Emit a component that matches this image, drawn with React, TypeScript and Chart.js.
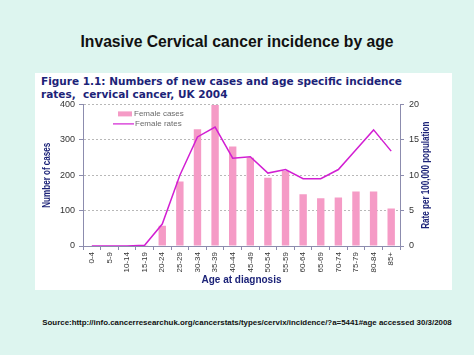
import React, { useEffect, useRef } from "react";
import { Chart, registerables } from "chart.js";

Chart.register(...registerables);

const ageGroups = ["0-4", "5-9", "10-14", "15-19", "20-24", "25-29", "30-34", "35-39", "40-44", "45-49", "50-54", "55-59", "60-64", "65-69", "70-74", "75-79", "80-84", "85+"];
const femaleCases = [0, 0, 0, 2, 57, 182, 330, 398, 281, 249, 193, 212, 146, 135, 137, 154, 154, 106];
const femaleRates = [0, 0, 0, 0.1, 3.1, 10.0, 15.4, 16.8, 12.4, 12.6, 10.3, 10.8, 9.5, 9.5, 10.8, 13.6, 16.4, 13.4];
const leftTicks = [0, 100, 200, 300, 400];
const rightTicks = [0, 5, 10, 15, 20];

const BAR = "#f59bc6";
const LINE = "#d21fd2";
const NAVY = "#1c2378";
const AXIS = "#8c8cae";

function drawVerticalTitle(ctx: any, text: string, x: number, y: number, targetLen: number) {
  ctx.save();
  ctx.font = "bold 10px 'Liberation Sans', Arial, sans-serif";
  ctx.fillStyle = NAVY;
  ctx.textAlign = "center";
  ctx.textBaseline = "middle";
  const w = ctx.measureText(text).width;
  ctx.translate(x, y);
  ctx.rotate(-Math.PI / 2);
  ctx.scale(targetLen / w, 1);
  ctx.fillText(text, 0, 0);
  ctx.restore();
}

const legendPlugin = {
  id: "insideLegend",
  afterDraw(chart: any) {
    const { ctx, chartArea } = chart;
    const x0 = chartArea.left;
    const y0 = chartArea.top;
    ctx.save();
    ctx.font = "8px 'Liberation Sans', Arial, sans-serif";
    ctx.textBaseline = "middle";
    ctx.fillStyle = BAR;
    ctx.fillRect(x0 + 35, y0 + 7, 14, 5);
    ctx.fillStyle = "#6a6a6a";
    ctx.fillText("Female cases", x0 + 51, y0 + 9.5);
    ctx.strokeStyle = LINE;
    ctx.lineWidth = 1.2;
    ctx.beginPath();
    ctx.moveTo(x0 + 30, y0 + 19.5);
    ctx.lineTo(x0 + 51, y0 + 19.5);
    ctx.stroke();
    ctx.fillText("Female rates", x0 + 52, y0 + 19.5);
    ctx.restore();
    const cy = (chartArea.top + chartArea.bottom) / 2;
    drawVerticalTitle(ctx, "Number of cases", 12, cy, 65);
    drawVerticalTitle(ctx, "Rate per 100,000 population", 391, cy, 107);
  },
};

export default function App() {
  const ref = useRef<HTMLCanvasElement>(null);
  useEffect(() => {
    if (!ref.current) return;
    const tickFont = { family: "'Liberation Sans', Arial, sans-serif", size: 9 };
    const chart = new Chart(ref.current, {
      type: "bar",
      data: {
        labels: ageGroups,
        datasets: [
          {
            type: "line",
            label: "Female rates",
            data: femaleRates,
            borderColor: LINE,
            backgroundColor: LINE,
            borderWidth: 1.5,
            pointRadius: 0,
            tension: 0,
            yAxisID: "y1",
            order: 0,
          } as any,
          {
            type: "bar",
            label: "Female cases",
            data: femaleCases,
            backgroundColor: BAR,
            barPercentage: 0.42,
            categoryPercentage: 1,
            yAxisID: "y",
            order: 1,
          },
        ],
      },
      options: {
        animation: false,
        responsive: false,
        maintainAspectRatio: false,
        layout: { padding: { top: 2, left: 0, right: 0, bottom: 0 } },
        plugins: { legend: { display: false }, tooltip: { enabled: false }, title: { display: false } },
        scales: {
          x: {
            grid: { display: true, drawOnChartArea: false, offset: true, tickLength: 4, color: AXIS },
            border: { color: AXIS, width: 1 },
            ticks: { minRotation: 90, maxRotation: 90, autoSkip: false, color: "#333", font: { ...tickFont, size: 8 }, padding: 2 },
            title: { display: true, text: "Age at diagnosis", color: NAVY, font: { family: "'Liberation Sans', Arial, sans-serif", size: 10, weight: "bold" }, padding: { top: 2, bottom: 4 } },
            afterFit: (s: any) => { s.height = 44; },
          },
          y: {
            position: "left",
            min: 0,
            max: 400,
            afterBuildTicks: (s: any) => { s.ticks = leftTicks.map((v) => ({ value: v })); },
            grid: { color: "#b8b8b8", tickLength: 4, tickColor: AXIS },
            border: { color: AXIS, width: 1, dash: [2, 2] },
            ticks: { color: "#333", font: tickFont, padding: 4 },
            title: { display: false },
            afterFit: (s: any) => { s.width = 48; },
          },
          y1: {
            position: "right",
            min: 0,
            max: 20,
            afterBuildTicks: (s: any) => { s.ticks = rightTicks.map((v) => ({ value: v })); },
            grid: { drawOnChartArea: false, tickLength: 4, color: AXIS },
            border: { color: AXIS, width: 1 },
            ticks: { color: "#333", font: tickFont, padding: 5 },
            title: { display: false },
            afterFit: (s: any) => { s.width = 52; },
          },
        },
      },
      plugins: [legendPlugin],
    });
    return () => chart.destroy();
  }, []);

  return (
    <div style={{ position: "absolute", left: 0, top: 0, width: 474, height: 355, background: "#ddf5ef", fontFamily: "'Liberation Sans', Arial, sans-serif", overflow: "hidden" }}>
      <div style={{ position: "absolute", left: 0, top: 33, width: 474, textAlign: "center", fontSize: 15.7, fontWeight: "bold", color: "#111", lineHeight: "18px" }}>
        Invasive Cervical cancer incidence by age
      </div>
      <div style={{ position: "absolute", left: 35, top: 73, width: 417, height: 217, background: "#ffffff" }}>
        <div style={{ position: "absolute", left: 6, top: 2, fontFamily: "'DejaVu Sans', sans-serif", fontSize: 10.5, fontWeight: "bold", color: NAVY, lineHeight: "12.5px", whiteSpace: "nowrap" }}>
          Figure 1.1: Numbers of new cases and age specific incidence<br />rates,&nbsp; cervical cancer, UK 2004
        </div>
        <canvas ref={ref} width={417} height={196} style={{ position: "absolute", left: 0, top: 21, width: 417, height: 196 }} />
      </div>
      <div style={{ position: "absolute", left: 10, top: 318, width: 474, textAlign: "center", fontSize: 7.9, fontWeight: "bold", color: "#111" }}>
        Source:http://info.cancerresearchuk.org/cancerstats/types/cervix/incidence/?a=5441#age accessed 30/3/2008
      </div>
    </div>
  );
}
